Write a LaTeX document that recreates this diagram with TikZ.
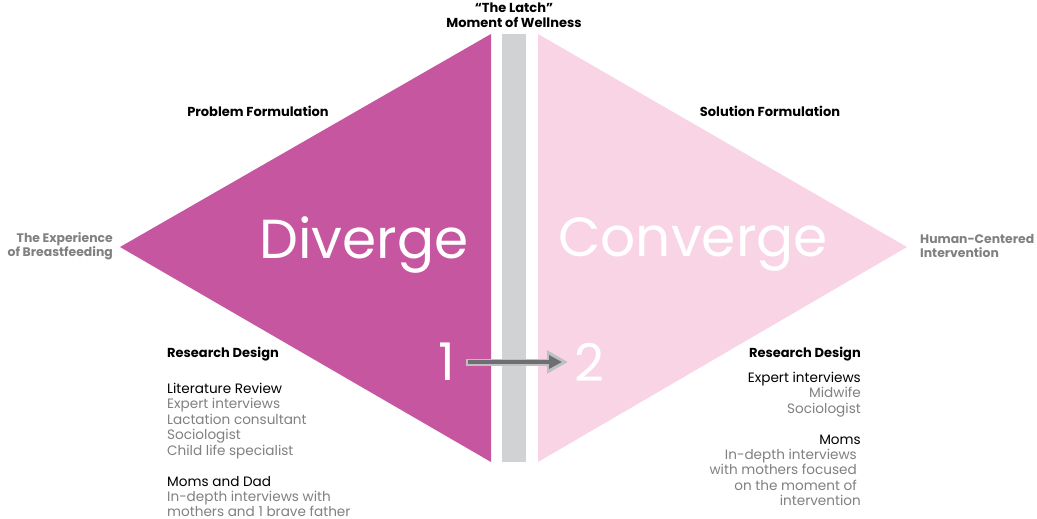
\documentclass[tikz,border=0pt]{standalone}
\usepackage{fontspec}
\setmainfont{Poppins}
\usetikzlibrary{arrows.meta,positioning}

\begin{document}
\begin{tikzpicture}[x=1pt,y=-1pt,
    label/.style={font=\fontsize{13}{14.5}\selectfont\bfseries, inner sep=0pt, align=center},
    side/.style={font=\fontsize{12.4}{14.5}\selectfont\bfseries, text=latchgrey, inner sep=0pt},
    item/.style={font=\fontsize{13.6}{15.5}\selectfont, inner sep=0pt},
    big/.style={font=\fontsize{55}{58}\selectfont, text=white, inner sep=0pt},
    numeral/.style={font=\fontsize{52}{56}\selectfont, text=white, inner sep=0pt}
]
% Define palette
\definecolor{latchmagenta}{RGB}{198, 86, 160}
\definecolor{latchpink}{RGB}{248, 212, 229}
\definecolor{latchbar}{RGB}{209, 210, 212}
\definecolor{latchgrey}{RGB}{128, 128, 130}
\definecolor{arrowlight}{RGB}{190, 191, 193}
\definecolor{arrowdark}{RGB}{110, 111, 114}

\useasboundingbox (0,0) rectangle (1037,519);

% the two halves and the bar
\fill[latchmagenta] (120,247) -- (491,34) -- (491,462) -- cycle;
\fill[latchbar] (502,34) rectangle (526,462);
\fill[latchpink] (907,247) -- (538,34) -- (538,462) -- cycle;

% headings
\node[label] (latch) at (514,15) {“The Latch”\\Moment of Wellness};
\node[label] (problem) at (258,111) {Problem Formulation};
\node[label] (solution) at (770,111) {Solution Formulation};
\node[side, anchor=east, align=right] (experience) at (113,246) {The Experience\\of Breastfeeding};
\node[side, anchor=west, align=left] (outcome) at (920,246) {Human-Centered\\Intervention};

\node[big] (diverge) at (364,245) {Diverge};
\node[big] (converge) at (693,245) {Converge};

% phases
\node[numeral] (one) at (447,362) {1};
\node[numeral] (two) at (589,362) {2};
\draw[line width=7pt, arrowlight, -{Triangle[length=21pt,width=22pt]}]
    ([xshift=19pt]one.center) -- ([xshift=-21pt]two.center);
\draw[line width=3.5pt, arrowdark, -{Triangle[length=13pt,width=13pt]}]
    ([xshift=21pt]one.center) -- ([xshift=-27pt]two.center);

% left research design
\node[label, anchor=west] (leftdesign) at (167,354) {Research Design};
\foreach \t/\c/\y in {
    Literature Review/black/393,
    Expert interviews/latchgrey/408.5,
    Lactation consultant/latchgrey/424,
    Sociologist/latchgrey/439.5,
    Child life specialist/latchgrey/455,
    Moms and Dad/black/486,
    In-depth interviews with/latchgrey/501,
    mothers and 1 brave father/latchgrey/516
} {
    \node[item, text=\c, anchor=base west] at (167,\y) {\t};
}

% right research design
\node[label, anchor=east] (rightdesign) at (861,354) {Research Design};
\foreach \t/\c/\x/\y in {
    Expert interviews/black/861/382,
    Midwife/latchgrey/861/397,
    Sociologist/latchgrey/861/413,
    Moms/black/861/444,
    In-depth interviews/latchgrey/857/459,
    with mothers focused/latchgrey/857/474.5,
    on the moment of/latchgrey/857/490,
    intervention/latchgrey/861/505
} {
    \node[item, text=\c, anchor=base east] at (\x,\y) {\t};
}
\end{tikzpicture}
\end{document}
